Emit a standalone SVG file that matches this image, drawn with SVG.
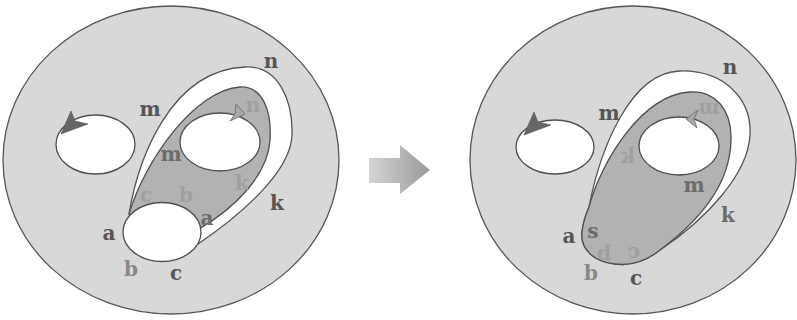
<svg xmlns="http://www.w3.org/2000/svg" width="797" height="320" viewBox="0 0 797 320">
<defs>
<style>
.disk{fill:#d8d8d8;stroke:#555;stroke-width:1.3}
.band{fill:#ffffff;stroke:#555;stroke-width:1.3}
.reg{fill:#b2b2b2;stroke:#505050;stroke-width:1.3}
.hole{fill:#ffffff;stroke:#505050;stroke-width:1.3}
.ahd{fill:#666;stroke:#555;stroke-width:0.6}
.ahl{fill:#a8a8a8;stroke:#6a6a6a;stroke-width:0.8}
text{font-family:"DejaVu Serif","Liberation Serif",serif;font-size:20px;font-weight:bold;text-anchor:middle}
.d{fill:#555}
.m{fill:#6c6c6c}
.g{fill:#888}
.l{fill:#a0a0a0}
</style>
<linearGradient id="arr" x1="0" y1="0" x2="1" y2="0">
<stop offset="0" stop-color="#d4d4d4"/>
<stop offset="0.55" stop-color="#b4b4b4"/>
<stop offset="1" stop-color="#9a9a9a"/>
</linearGradient>
</defs>

<g id="left-figure">
<ellipse class="disk" cx="171" cy="160" rx="168" ry="154"/>
<path class="band" d="M 129,214 C 138,160 170,70 245,67 C 278,65 293,100 292,135 C 291,170 245,212 198,244 L 165,235 Z"/>
<path class="reg" d="M 129,214 C 145,160 195,90 240,87 C 262,86 272,110 270,140 C 268,175 235,208 199,229 L 165,235 Z"/>
<ellipse id="hole-left-1" class="hole" cx="95.5" cy="144.5" rx="39.5" ry="29.5"/>
<ellipse id="hole-left-2" class="hole" cx="220" cy="142" rx="40" ry="29"/>
<ellipse id="hole-left-3" class="hole" cx="162" cy="232" rx="39" ry="29.5"/>
<polygon class="ahd" points="61,134 71,111 75,121 88,124"/>
<polygon class="ahl" points="245,114 236,104 235,114 230,121"/>
<text class="d" x="271" y="68">n</text>
<text class="d" x="150" y="116">m</text>
<text class="l" x="253" y="112">n</text>
<text class="m" x="171" y="161">m</text>
<text class="l" x="242" y="190">k</text>
<text class="d" x="277" y="210">k</text>
<text class="l" x="146" y="202">c</text>
<text class="l" x="186" y="202">b</text>
<text class="m" x="207" y="225">a</text>
<text class="d" x="109" y="240">a</text>
<text class="g" x="131" y="276">b</text>
<text class="d" x="176" y="280">c</text>
</g>

<g id="arrow">
<path d="M 369,158 L 400,158 L 400,145 L 430,170 L 400,194 L 400,183 L 369,183 Z" fill="url(#arr)"/>
</g>

<g id="right-figure">
<ellipse class="disk" cx="633" cy="160" rx="163" ry="154"/>
<path class="band" d="M 589,207 C 600,150 630,72 680,71 C 725,70 752,100 750,135 C 748,175 705,220 660,250 C 645,262 630,266 615,264 C 595,262 580,250 582,232 C 583,222 586,214 589,207 Z"/>
<path class="reg" d="M 589,207 C 600,165 640,95 690,92 C 715,90 732,110 731,140 C 730,185 700,220 660,250 C 645,262 630,266 615,264 C 595,262 580,250 582,232 C 583,222 586,214 589,207 Z"/>
<ellipse id="hole-right-1" class="hole" cx="555" cy="147" rx="39" ry="27"/>
<ellipse id="hole-right-2" class="hole" cx="679" cy="146" rx="40" ry="29"/>
<polygon class="ahd" points="524,135 534,112 538,122 551,125"/>
<polygon class="ahl" points="686,119 698,110 694,119 697,128"/>
<text class="d" x="730" y="74">n</text>
<text class="d" x="609" y="120">m</text>
<text class="l" x="709" y="112.5" transform="rotate(180 709 107.5)">m</text>
<text class="l" x="0" y="163" transform="translate(628,0) scale(-1,1)">k</text>
<text class="m" x="694" y="192">m</text>
<text class="m" x="728" y="222">k</text>
<text class="d" x="569" y="243">a</text>
<text class="m" x="593" y="238">s</text>
<text class="l" x="0" y="260" transform="translate(604,0) scale(-1,1)">b</text>
<text class="l" x="0" y="258" transform="translate(634,0) scale(-1,1)">c</text>
<text class="g" x="591" y="280">b</text>
<text class="d" x="636" y="285">c</text>
</g>
</svg>
